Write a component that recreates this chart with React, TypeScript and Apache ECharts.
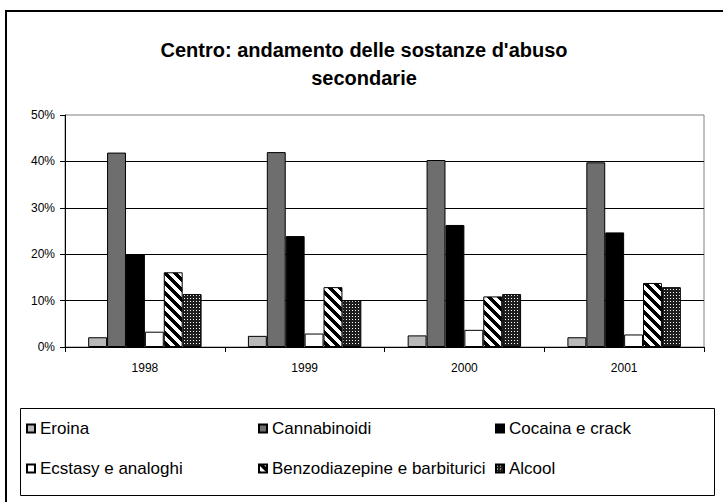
import React, { useEffect, useRef } from "react";
import * as echarts from "echarts";

const years = ["1998", "1999", "2000", "2001"];
const eroina = [2.1, 2.4, 2.5, 2.1];
const cannabinoidi = [41.9, 42.0, 40.3, 39.8];
const cocaina = [20.0, 23.9, 26.3, 24.7];
const ecstasy = [3.3, 2.9, 3.7, 2.7];
const benzo = [16.1, 12.9, 10.9, 13.8];
const alcool = [11.4, 10.1, 11.4, 12.9];
const seriesNames = [
  "Eroina",
  "Cannabinoidi",
  "Cocaina e crack",
  "Ecstasy e analoghi",
  "Benzodiazepine e barbiturici",
  "Alcool",
];
const yTicks = [0, 10, 20, 30, 40, 50];
const titleLines = ["Centro: andamento delle sostanze d'abuso", "secondarie"];

const FONT = "'Liberation Sans', Arial, sans-serif";

function makeStripe() {
  const N = 10;
  const c = document.createElement("canvas");
  c.width = N;
  c.height = N;
  const ctx = c.getContext("2d")!;
  const img = ctx.createImageData(N, N);
  for (let y = 0; y < N; y++) {
    for (let x = 0; x < N; x++) {
      const d = (((x - y) % N) + N) % N;
      const black = d < 5;
      const i = (y * N + x) * 4;
      const v = black ? 0 : 255;
      img.data[i] = v;
      img.data[i + 1] = v;
      img.data[i + 2] = v;
      img.data[i + 3] = 255;
    }
  }
  ctx.putImageData(img, 0, 0);
  return c;
}

function makeDots() {
  const c = document.createElement("canvas");
  c.width = 3;
  c.height = 3;
  const ctx = c.getContext("2d")!;
  const img = ctx.createImageData(3, 3);
  for (let y = 0; y < 3; y++) {
    for (let x = 0; x < 3; x++) {
      const white = x === 1 && y === 1;
      const i = (y * 3 + x) * 4;
      const v = white ? 255 : 30;
      img.data[i] = v;
      img.data[i + 1] = v;
      img.data[i + 2] = v;
      img.data[i + 3] = 255;
    }
  }
  ctx.putImageData(img, 0, 0);
  return c;
}

export default function App() {
  const ref = useRef<HTMLDivElement>(null);
  useEffect(() => {
    if (!ref.current) return;
    const chart = echarts.init(ref.current, null, { renderer: "svg" });
    const stripe = { image: makeStripe(), repeat: "repeat", imageWidth: 10, imageHeight: 10 } as any;
    const dots = { image: makeDots(), repeat: "repeat", imageWidth: 3, imageHeight: 3 } as any;
    const colors: any[] = ["#b8b8b8", "#6e6e6e", "#000000", "#ffffff", stripe, dots];
    const values = [eroina, cannabinoidi, cocaina, ecstasy, benzo, alcool];

    const legendPos = [
      { left: 26, top: 420 },
      { left: 258, top: 420 },
      { left: 495, top: 420 },
      { left: 26, top: 460 },
      { left: 258, top: 460 },
      { left: 495, top: 460 },
    ];

    chart.setOption({
      animation: false,
      textStyle: { fontFamily: FONT },
      grid: {
        left: 65,
        top: 115,
        width: 639,
        height: 232,
        show: true,
        borderColor: "#808080",
        borderWidth: 1,
        backgroundColor: "#ffffff",
      },
      legend: seriesNames.map((n, i) => ({
        data: [n],
        left: legendPos[i].left,
        top: legendPos[i].top,
        itemWidth: 8,
        itemHeight: 8,
        icon: "rect",
        padding: 0,
        textStyle: { fontSize: 17, color: "#000", fontFamily: FONT },
        selectedMode: false,
      })),
      xAxis: {
        type: "category",
        data: years,
        axisLine: { lineStyle: { color: "#000", width: 1 } },
        axisTick: { show: true, length: 5, interval: 0, lineStyle: { color: "#000" } },
        axisLabel: { fontSize: 12, color: "#000", margin: 15, fontFamily: FONT },
        splitLine: { show: false },
      },
      yAxis: {
        type: "value",
        min: yTicks[0],
        max: yTicks[yTicks.length - 1],
        interval: 10,
        axisLine: { show: true, lineStyle: { color: "#000", width: 1 } },
        axisTick: { show: true, length: 5, lineStyle: { color: "#000" } },
        axisLabel: { fontSize: 12, color: "#000", margin: 10, formatter: "{value}%", fontFamily: FONT },
        splitLine: { show: true, showMinLine: false, showMaxLine: false, lineStyle: { color: "#000", width: 1 } },
      },
      series: seriesNames.map((n, i) => ({
        name: n,
        type: "bar",
        data: values[i],
        barGap: "0%",
        barCategoryGap: "29%",
        itemStyle: { color: colors[i], borderColor: "#000", borderWidth: 1 },
      })),
      graphic: [
        {
          type: "line",
          shape: { x1: 6, y1: 11, x2: 723, y2: 11 },
          style: { stroke: "#000", lineWidth: 2 },
          silent: true,
        },
        {
          type: "line",
          shape: { x1: 6, y1: 10, x2: 6, y2: 502 },
          style: { stroke: "#000", lineWidth: 2 },
          silent: true,
        },
        {
          type: "rect",
          shape: { x: 20.5, y: 408.5, width: 694, height: 87 },
          style: { fill: "none", stroke: "#000", lineWidth: 1 },
          silent: true,
          z: -1,
        },
        {
          type: "text",
          x: 364,
          y: 50,
          style: {
            text: titleLines[0],
            align: "center",
            verticalAlign: "middle",
            font: "bold 20px " + FONT,
            fill: "#000",
          },
        },
        {
          type: "text",
          x: 364,
          y: 78,
          style: {
            text: titleLines[1],
            align: "center",
            verticalAlign: "middle",
            font: "bold 20px " + FONT,
            fill: "#000",
          },
        },
      ],
    });
    return () => chart.dispose();
  }, []);
  return (
    <div
      ref={ref}
      style={{ position: "fixed", left: 0, top: 0, width: 723, height: 502, background: "#fff" }}
    />
  );
}
